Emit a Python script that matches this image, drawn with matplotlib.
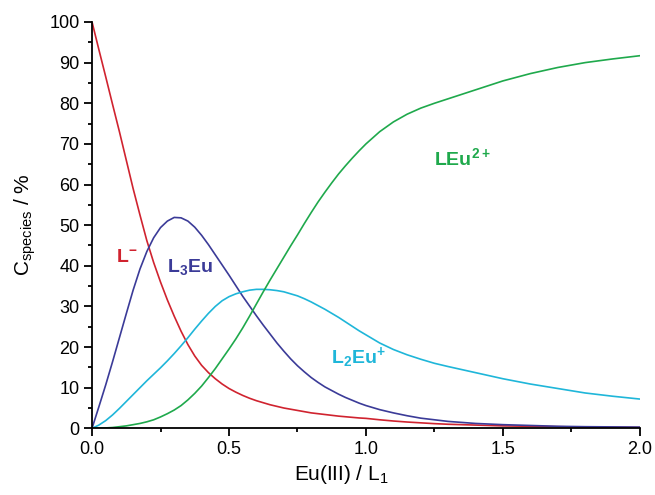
import numpy as np
import matplotlib
matplotlib.use("Agg")
import matplotlib.pyplot as plt

plt.rcParams['font.family'] = ['Liberation Sans', 'DejaVu Sans']
plt.rcParams['mathtext.default'] = 'regular'

# ratio Eu(III)/L1
ratio = [0.0, 0.025, 0.05, 0.075, 0.1, 0.125, 0.15, 0.175, 0.2, 0.225, 0.25,
         0.275, 0.3, 0.325, 0.35, 0.375, 0.4, 0.425, 0.45, 0.475, 0.5,
         0.525, 0.55, 0.575, 0.6, 0.625, 0.65, 0.675, 0.7, 0.725, 0.75,
         0.775, 0.8, 0.825, 0.85, 0.875, 0.9, 0.925, 0.95, 0.975, 1.0,
         1.05, 1.1, 1.15, 1.2, 1.25, 1.3, 1.4, 1.5, 1.6, 1.7, 1.8, 1.9, 2.0]

# species distribution (%)
c_L = [100, 93.2, 86.5, 79.7, 73, 66, 59, 52.5, 46.2, 40.8, 36,
       31.6, 27.6, 23.9, 20.6, 17.8, 15.5, 13.7, 12.2, 10.9, 9.8,
       8.9, 8.1, 7.4, 6.8, 6.3, 5.8, 5.4, 5.0, 4.7, 4.4,
       4.1, 3.8, 3.6, 3.4, 3.2, 3.0, 2.85, 2.7, 2.55, 2.45,
       2.1, 1.8, 1.55, 1.35, 1.15, 1.0, 0.8, 0.6, 0.5, 0.4, 0.3, 0.25, 0.2]
c_L3Eu = [0, 5.3, 10.7, 16.4, 22.3, 28.2, 34, 39.2, 43.5, 46.9, 49.4,
          51.0, 51.9, 51.8, 51.0, 49.5, 47.5, 45.2, 42.7, 40.2, 37.7,
          35.1, 32.5, 30.1, 27.7, 25.4, 23.2, 21.0, 19.0, 17.1, 15.4,
          13.9, 12.5, 11.3, 10.2, 9.3, 8.4, 7.6, 6.9, 6.2, 5.6,
          4.6, 3.8, 3.1, 2.5, 2.1, 1.7, 1.2, 0.9, 0.7, 0.5, 0.4, 0.35, 0.3]
c_L2Eu = [0, 0.8, 1.9, 3.3, 4.9, 6.6, 8.3, 10.0, 11.7, 13.3, 14.9,
          16.6, 18.4, 20.3, 22.3, 24.4, 26.4, 28.3, 30.0, 31.4, 32.4,
          33.1, 33.6, 34.0, 34.2, 34.2, 34.1, 33.9, 33.6, 33.1, 32.6,
          31.9, 31.1, 30.2, 29.3, 28.3, 27.3, 26.2, 25.1, 24.0, 23.0,
          21.0, 19.4, 18.1, 17.0, 16.0, 15.2, 13.7, 12.2, 10.9, 9.8, 8.7, 7.9, 7.2]
c_LEu = [0, 0.02, 0.1, 0.2, 0.4, 0.6, 0.9, 1.2, 1.6, 2.1, 2.8,
         3.6, 4.5, 5.6, 7.0, 8.6, 10.4, 12.5, 14.7, 17.1, 19.5,
         22.0, 24.7, 27.6, 30.6, 33.6, 36.5, 39.3, 42.1, 44.9, 47.6,
         50.4, 53.1, 55.7, 58.1, 60.4, 62.6, 64.6, 66.5, 68.3, 70.0,
         73.0, 75.4, 77.3, 78.8, 80.0, 81.1, 83.3, 85.5, 87.3, 88.8, 90.0, 90.9, 91.7]

red = '#d0232f'
blue = '#3b3b98'
cyan = '#1fb6d9'
green = '#1fa94c'

fig = plt.figure(figsize=(6.55, 4.95), dpi=100)
ax = fig.add_axes([0.1405, 0.1347, 0.8365, 0.8209])

ax.plot(ratio, c_L, color=red, lw=1.2)
ax.plot(ratio, c_L3Eu, color=blue, lw=1.2)
ax.plot(ratio, c_L2Eu, color=cyan, lw=1.2)
ax.plot(ratio, c_LEu, color=green, lw=1.2)

ax.text(0.088, 41, r'L$^{-}$', color=red, fontsize=14, fontweight='bold')
ax.text(0.274, 38.5, r'L$_3$Eu', color=blue, fontsize=14, fontweight='bold')
ax.text(0.872, 16, r'L$_2$Eu$^{+}$', color=cyan, fontsize=14, fontweight='bold')
ax.text(1.25, 64.7, r'LEu$^{2+}$', color=green, fontsize=14, fontweight='bold')

ax.set_xlim(0, 2.0)
ax.set_ylim(0, 100)
ax.set_xticks([0.0, 0.5, 1.0, 1.5, 2.0])
ax.set_xticks([0.25, 0.75, 1.25, 1.75], minor=True)
ax.set_yticks(np.arange(0, 101, 10))
ax.set_yticks(np.arange(5, 100, 10), minor=True)
ax.set_xticklabels(['0.0', '0.5', '1.0', '1.5', '2.0'])

for s in ['top', 'right']:
    ax.spines[s].set_visible(False)
for s in ['left', 'bottom']:
    ax.spines[s].set_linewidth(1.3)
ax.tick_params(which='major', direction='out', length=6, width=1.3, labelsize=13, pad=3)
ax.tick_params(which='minor', direction='out', length=3, width=1.3)

ax.set_xlabel(r'Eu(III) / L$_1$', fontsize=15)
ax.xaxis.set_label_coords(0.455, -0.085)
ax.set_ylabel(r'C$_{species}$ / %', fontsize=15, labelpad=8)

fig.savefig('out.png', dpi=100)
